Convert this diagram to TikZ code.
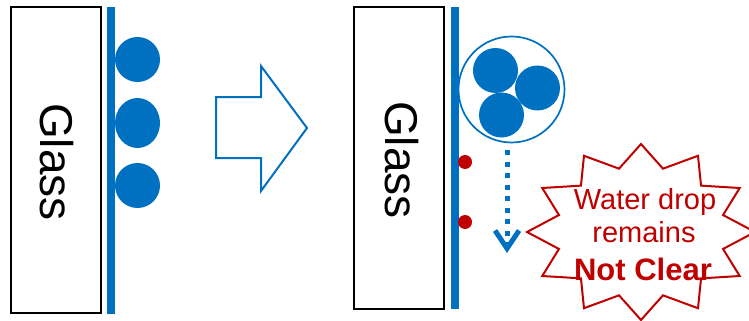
\documentclass[tikz,border=0pt]{standalone}
\usepackage{fontspec}
\setmainfont{Liberation Sans}
\usetikzlibrary{arrows.meta,shapes.geometric}
\definecolor{dropblue}{HTML}{0070C0}
\definecolor{warnred}{HTML}{C00000}
\tikzset{
  glassbox/.style={draw=black, line width=2pt, fill=white, inner sep=0pt},
  glasstext/.style={rotate=-90, inner sep=0pt, font=\fontsize{46}{50}\selectfont},
  coating/.style={fill=dropblue, draw=none, inner sep=0pt},
  drop/.style={circle, fill=dropblue, draw=none, inner sep=0pt, minimum size=45pt},
  bigdrop/.style={ellipse, fill=dropblue, draw=none, inner sep=0pt, minimum width=45pt, minimum height=50pt},
  reddot/.style={circle, fill=warnred, draw=none, inner sep=0pt, minimum size=14pt},
  ring/.style={circle, draw=dropblue, line width=1.7pt, inner sep=0pt, minimum size=106pt},
  blockarrow/.style={draw=dropblue, line width=2pt, fill=white, line join=miter},
  dropline/.style={draw=dropblue, line width=5pt, dash pattern=on 5pt off 6.5pt,
     -{Straight Barb[length=18pt, width=24pt, line width=5pt]}},
  burst/.style={draw=warnred, line width=2pt, fill=white, line join=miter},
  warntext/.style={text=warnred, anchor=base, inner sep=0pt, font=\fontsize{29}{33}\selectfont},
  warnbold/.style={text=warnred, anchor=base, inner sep=0pt, font=\fontsize{31}{36}\selectfont\bfseries}
}
\begin{document}
\begin{tikzpicture}[x=1pt, y=-1pt]
\useasboundingbox (0,0) rectangle (749,321);
% left panel
\node[glassbox, minimum width=90pt, minimum height=306pt] (g1) at (56,160) {};
\node[glasstext] (t1) at (57,162) {Glass};
\node[coating, minimum width=8pt, minimum height=307pt] (c1) at (111,160.5) {};
\node[drop] (d1) at (137.5,59.5) {};
\node[bigdrop] (d2) at (137.5,123) {};
\node[drop] (d3) at (137.5,185.5) {};
% block arrow
\draw[blockarrow] (216,97) -- (261,97) -- (261,66) -- (307,128) -- (261,191) -- (261,158) -- (216,158) -- cycle;
% right panel
\node[glassbox, minimum width=90pt, minimum height=302pt] (g2) at (399,158) {};
\node[glasstext] (t2) at (402,160) {Glass};
\node[coating, minimum width=8pt, minimum height=302pt] (c2) at (455,158) {};
\node[ring] (bc) at (511.5,89.5) {};
\node[drop] (e1) at (495.5,70.5) {};
\node[drop] (e2) at (537.5,88) {};
\node[drop] (e3) at (501.5,115) {};
\node[reddot] (r1) at (465,162) {};
\node[reddot] (r2) at (465,222) {};
\coordinate (tipc) at (507,253);
\draw[dropline, shorten <=7pt] (bc.south -| tipc) -- (tipc);
% starburst
\draw[burst] plot[samples at={0,15,...,345}, variable=\t]
  ({641+114*(mod(\t,30)==0?1:0.745)*cos(\t)}, {232-88*(mod(\t,30)==0?1:0.745)*sin(\t)}) -- cycle;
\node[warntext] (w1) at (645,209) {Water drop};
\node[warntext] (w2) at (644,242) {remains};
\node[warnbold] (w3) at (643,280) {Not Clear};
\end{tikzpicture}
\end{document}
